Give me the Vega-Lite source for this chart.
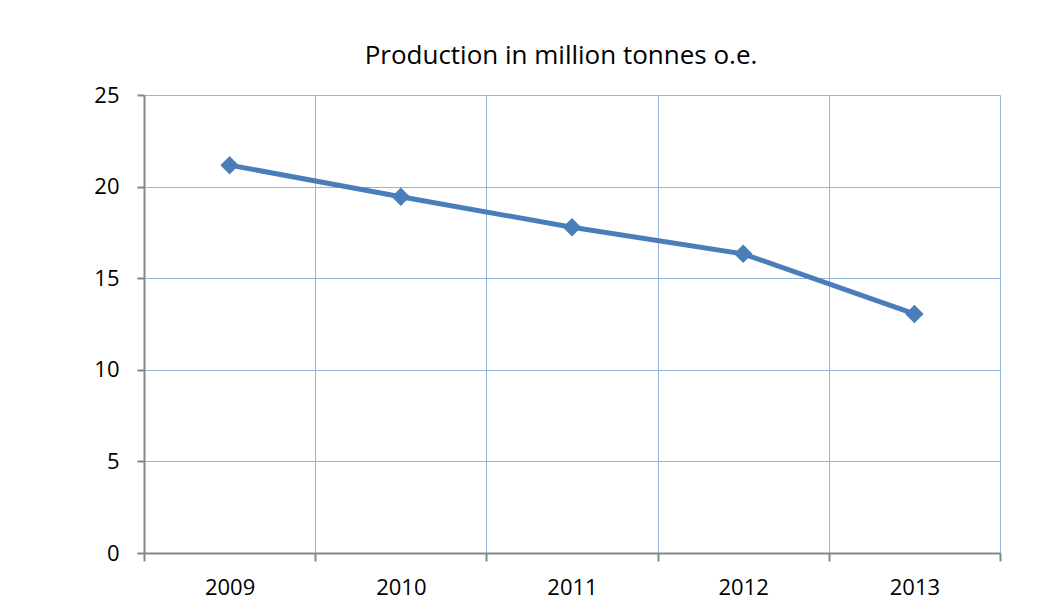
{
  "$schema": "https://vega.github.io/schema/vega-lite/v6.json",
  "width": 856,
  "height": 458,
  "autosize": "none",
  "padding": {"left": 144, "top": 95, "right": 50, "bottom": 62},
  "background": "#ffffff",
  "title": {
    "text": "Production in million tonnes o.e.",
    "font": "Open Sans",
    "fontSize": 26,
    "fontWeight": "normal",
    "color": "#000000",
    "anchor": "middle",
    "frame": "group",
    "baseline": "bottom",
    "offset": 27,
    "dx": -11,
    "dy": 38
  },
  "config": {
    "view": {"stroke": null},
    "font": "Open Sans"
  },
  "data": {
    "values": [
      {"year": "2009", "production": 21.17},
      {"year": "2010", "production": 19.45},
      {"year": "2011", "production": 17.78},
      {"year": "2012", "production": 16.33},
      {"year": "2013", "production": 13.05}
    ]
  },
  "encoding": {
    "x": {
      "field": "year",
      "type": "ordinal",
      "bandPosition": 0.5,
      "scale": {"type": "band", "paddingInner": 0, "paddingOuter": 0},
      "axis": {
        "title": null,
        "labelAngle": 0,
        "labelFont": "Open Sans",
        "labelFontSize": 22,
        "labelColor": "#000000",
        "labelPadding": 16,
        "tickBand": "extent",
        "tickSize": 8,
        "tickWidth": 2,
        "tickColor": "#868686",
        "domainColor": "#868686",
        "domainWidth": 2,
        "grid": true,
        "gridColor": "#95B4DE",
        "gridWidth": 1
      }
    },
    "y": {
      "field": "production",
      "type": "quantitative",
      "scale": {"domain": [0, 25], "nice": false},
      "axis": {
        "title": null,
        "values": [0, 5, 10, 15, 20, 25],
        "labelFont": "Open Sans",
        "labelFontSize": 22,
        "labelColor": "#000000",
        "labelPadding": 18,
        "tickSize": 7,
        "tickWidth": 2,
        "tickColor": "#868686",
        "domainColor": "#868686",
        "domainWidth": 2,
        "grid": true,
        "gridColor": "#95B4DE",
        "gridWidth": 1
      }
    }
  },
  "layer": [
    {
      "mark": {"type": "line", "color": "#4A7EBB", "strokeWidth": 5}
    },
    {
      "mark": {"type": "point", "shape": "diamond", "size": 340, "filled": true, "opacity": 1, "color": "#4A7EBB"}
    }
  ]
}
